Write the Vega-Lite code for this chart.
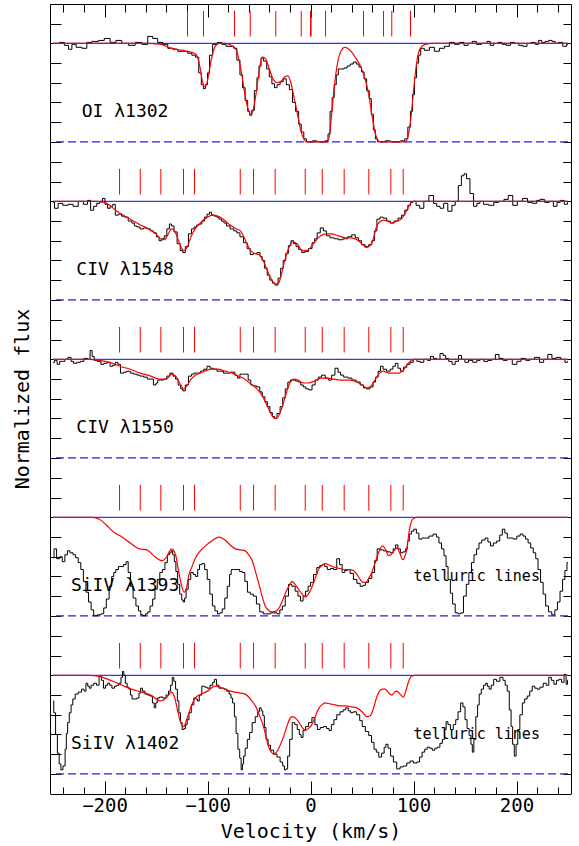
{
"$schema": "https://vega.github.io/schema/vega-lite/v6.json",
"background": "white",
"padding": {"left": 12, "top": 3, "right": 8, "bottom": 5},
"config": {
  "view": {"stroke": null},
  "axis": {"grid": false, "domainColor": "black", "tickColor": "black", "labelColor": "black", "titleColor": "black", "labelFont": "DejaVu Sans Mono", "titleFont": "DejaVu Sans Mono", "titleFontWeight": "normal", "domainWidth": 1, "tickWidth": 1},
  "header": {"labels": false}
},
"data": {"values": [
{"ion":"OI","k":"label","name":"OI λ1302"},
{"ion":"C1548","k":"label","name":"CIV λ1548"},
{"ion":"C1550","k":"label","name":"CIV λ1550"},
{"ion":"S1393","k":"label","name":"SiIV λ1393"},
{"ion":"S1402","k":"label","name":"SiIV λ1402"},
{"ion":"S1393","k":"tell","name":"telluric lines"},
{"ion":"S1402","k":"tell","name":"telluric lines"},
{"ion":"OI","k":"tick","v":-119.4},{"ion":"OI","k":"tick","v":-103.9},{"ion":"OI","k":"tick","v":-73.8},{"ion":"OI","k":"tick","v":-58.5},{"ion":"OI","k":"tick","v":-33.7},{"ion":"OI","k":"tick","v":-9.0},{"ion":"OI","k":"tick","v":0},{"ion":"OI","k":"tick","v":0.6},{"ion":"OI","k":"tick","v":14.6},{"ion":"OI","k":"tick","v":51.5},{"ion":"OI","k":"tick","v":70.9},{"ion":"OI","k":"tick","v":78.9},{"ion":"OI","k":"tick","v":97.1},
{"ion":"C1548","k":"tick","v":-185.4},{"ion":"C1548","k":"tick","v":-165.3},{"ion":"C1548","k":"tick","v":-145.3},{"ion":"C1548","k":"tick","v":-123.3},{"ion":"C1548","k":"tick","v":-112.6},{"ion":"C1548","k":"tick","v":-68.2},{"ion":"C1548","k":"tick","v":-55.3},{"ion":"C1548","k":"tick","v":-34.3},{"ion":"C1548","k":"tick","v":-5.1},{"ion":"C1548","k":"tick","v":11.4},{"ion":"C1548","k":"tick","v":32.7},{"ion":"C1548","k":"tick","v":56.6},{"ion":"C1548","k":"tick","v":78.0},{"ion":"C1548","k":"tick","v":90.0},
{"ion":"C1550","k":"tick","v":-185.4},{"ion":"C1550","k":"tick","v":-165.3},{"ion":"C1550","k":"tick","v":-145.3},{"ion":"C1550","k":"tick","v":-123.3},{"ion":"C1550","k":"tick","v":-112.6},{"ion":"C1550","k":"tick","v":-68.2},{"ion":"C1550","k":"tick","v":-55.3},{"ion":"C1550","k":"tick","v":-34.3},{"ion":"C1550","k":"tick","v":-5.1},{"ion":"C1550","k":"tick","v":11.4},{"ion":"C1550","k":"tick","v":32.7},{"ion":"C1550","k":"tick","v":56.6},{"ion":"C1550","k":"tick","v":78.0},{"ion":"C1550","k":"tick","v":90.0},
{"ion":"S1393","k":"tick","v":-185.4},{"ion":"S1393","k":"tick","v":-165.3},{"ion":"S1393","k":"tick","v":-145.3},{"ion":"S1393","k":"tick","v":-123.3},{"ion":"S1393","k":"tick","v":-112.6},{"ion":"S1393","k":"tick","v":-68.2},{"ion":"S1393","k":"tick","v":-55.3},{"ion":"S1393","k":"tick","v":-34.3},{"ion":"S1393","k":"tick","v":-5.1},{"ion":"S1393","k":"tick","v":11.4},{"ion":"S1393","k":"tick","v":32.7},{"ion":"S1393","k":"tick","v":56.6},{"ion":"S1393","k":"tick","v":78.0},{"ion":"S1393","k":"tick","v":90.0},
{"ion":"S1402","k":"tick","v":-185.4},{"ion":"S1402","k":"tick","v":-165.3},{"ion":"S1402","k":"tick","v":-145.3},{"ion":"S1402","k":"tick","v":-123.3},{"ion":"S1402","k":"tick","v":-112.6},{"ion":"S1402","k":"tick","v":-68.2},{"ion":"S1402","k":"tick","v":-55.3},{"ion":"S1402","k":"tick","v":-34.3},{"ion":"S1402","k":"tick","v":-5.1},{"ion":"S1402","k":"tick","v":11.4},{"ion":"S1402","k":"tick","v":32.7},{"ion":"S1402","k":"tick","v":56.6},{"ion":"S1402","k":"tick","v":78.0},{"ion":"S1402","k":"tick","v":90.0},

{"ion":"OI","k":"obs","v":-250,"f":1.0},{"ion":"OI","k":"obs","v":-246.3,"f":1.0},{"ion":"OI","k":"obs","v":-241.4,"f":1.01},{"ion":"OI","k":"obs","v":-236.6,"f":0.98},{"ion":"OI","k":"obs","v":-233.3,"f":0.94},{"ion":"OI","k":"obs","v":-230,"f":0.99},{"ion":"OI","k":"obs","v":-225,"f":0.96},{"ion":"OI","k":"obs","v":-218.8,"f":0.95},{"ion":"OI","k":"obs","v":-215.5,"f":1.01},{"ion":"OI","k":"obs","v":-209,"f":1.02},{"ion":"OI","k":"obs","v":-202.6,"f":1.03},{"ion":"OI","k":"obs","v":-197.8,"f":1.05},{"ion":"OI","k":"obs","v":-191.3,"f":1.01},{"ion":"OI","k":"obs","v":-186.4,"f":1.03},{"ion":"OI","k":"obs","v":-180,"f":1.0},{"ion":"OI","k":"obs","v":-173.5,"f":0.98},{"ion":"OI","k":"obs","v":-167,"f":1.01},{"ion":"OI","k":"obs","v":-160.5,"f":0.99},{"ion":"OI","k":"obs","v":-155.6,"f":1.07},{"ion":"OI","k":"obs","v":-150.8,"f":1.05},{"ion":"OI","k":"obs","v":-145.9,"f":1.01},{"ion":"OI","k":"obs","v":-141,"f":0.99},{"ion":"OI","k":"obs","v":-136.2,"f":0.95},{"ion":"OI","k":"obs","v":-131.4,"f":0.94},{"ion":"OI","k":"obs","v":-126.5,"f":0.92},{"ion":"OI","k":"obs","v":-121.7,"f":0.92},{"ion":"OI","k":"obs","v":-116.8,"f":0.9},{"ion":"OI","k":"obs","v":-113.6,"f":0.88},{"ion":"OI","k":"obs","v":-110,"f":0.86},{"ion":"OI","k":"obs","v":-107,"f":0.7},{"ion":"OI","k":"obs","v":-105,"f":0.58},{"ion":"OI","k":"obs","v":-103,"f":0.54},{"ion":"OI","k":"obs","v":-101,"f":0.58},{"ion":"OI","k":"obs","v":-99,"f":0.7},{"ion":"OI","k":"obs","v":-97,"f":0.88},{"ion":"OI","k":"obs","v":-93,"f":0.99},{"ion":"OI","k":"obs","v":-88,"f":1.01},{"ion":"OI","k":"obs","v":-84,"f":0.99},{"ion":"OI","k":"obs","v":-80,"f":0.97},{"ion":"OI","k":"obs","v":-76,"f":0.97},{"ion":"OI","k":"obs","v":-73,"f":0.95},{"ion":"OI","k":"obs","v":-70,"f":0.83},{"ion":"OI","k":"obs","v":-67,"f":0.68},{"ion":"OI","k":"obs","v":-65,"f":0.55},{"ion":"OI","k":"obs","v":-62,"f":0.42},{"ion":"OI","k":"obs","v":-60,"f":0.31},{"ion":"OI","k":"obs","v":-58,"f":0.27},{"ion":"OI","k":"obs","v":-56,"f":0.32},{"ion":"OI","k":"obs","v":-53,"f":0.52},{"ion":"OI","k":"obs","v":-51,"f":0.65},{"ion":"OI","k":"obs","v":-49,"f":0.77},{"ion":"OI","k":"obs","v":-47,"f":0.85},{"ion":"OI","k":"obs","v":-44,"f":0.82},{"ion":"OI","k":"obs","v":-41,"f":0.74},{"ion":"OI","k":"obs","v":-39,"f":0.66},{"ion":"OI","k":"obs","v":-36,"f":0.59},{"ion":"OI","k":"obs","v":-34,"f":0.55},{"ion":"OI","k":"obs","v":-31,"f":0.58},{"ion":"OI","k":"obs","v":-28,"f":0.61},{"ion":"OI","k":"obs","v":-25,"f":0.64},{"ion":"OI","k":"obs","v":-22,"f":0.58},{"ion":"OI","k":"obs","v":-19,"f":0.53},{"ion":"OI","k":"obs","v":-16,"f":0.4},{"ion":"OI","k":"obs","v":-13,"f":0.31},{"ion":"OI","k":"obs","v":-10,"f":0.18},{"ion":"OI","k":"obs","v":-8,"f":0.1},{"ion":"OI","k":"obs","v":-5,"f":0.03},{"ion":"OI","k":"obs","v":-3,"f":0.0},{"ion":"OI","k":"obs","v":0,"f":0.0},{"ion":"OI","k":"obs","v":4,"f":0.01},{"ion":"OI","k":"obs","v":8,"f":0.0},{"ion":"OI","k":"obs","v":12,"f":0.0},{"ion":"OI","k":"obs","v":16,"f":0.01},{"ion":"OI","k":"obs","v":18,"f":0.08},{"ion":"OI","k":"obs","v":20,"f":0.31},{"ion":"OI","k":"obs","v":22,"f":0.45},{"ion":"OI","k":"obs","v":24,"f":0.58},{"ion":"OI","k":"obs","v":26,"f":0.68},{"ion":"OI","k":"obs","v":28,"f":0.74},{"ion":"OI","k":"obs","v":31,"f":0.74},{"ion":"OI","k":"obs","v":34,"f":0.75},{"ion":"OI","k":"obs","v":37,"f":0.77},{"ion":"OI","k":"obs","v":40,"f":0.79},{"ion":"OI","k":"obs","v":43,"f":0.81},{"ion":"OI","k":"obs","v":46,"f":0.79},{"ion":"OI","k":"obs","v":48,"f":0.76},{"ion":"OI","k":"obs","v":51,"f":0.71},{"ion":"OI","k":"obs","v":53,"f":0.64},{"ion":"OI","k":"obs","v":56,"f":0.52},{"ion":"OI","k":"obs","v":58,"f":0.44},{"ion":"OI","k":"obs","v":60,"f":0.28},{"ion":"OI","k":"obs","v":62,"f":0.12},{"ion":"OI","k":"obs","v":64,"f":0.03},{"ion":"OI","k":"obs","v":66,"f":0.0},{"ion":"OI","k":"obs","v":70,"f":0.0},{"ion":"OI","k":"obs","v":75,"f":0.01},{"ion":"OI","k":"obs","v":80,"f":0.0},{"ion":"OI","k":"obs","v":85,"f":0.0},{"ion":"OI","k":"obs","v":90,"f":0.01},{"ion":"OI","k":"obs","v":93,"f":0.03},{"ion":"OI","k":"obs","v":96,"f":0.15},{"ion":"OI","k":"obs","v":98,"f":0.31},{"ion":"OI","k":"obs","v":100,"f":0.48},{"ion":"OI","k":"obs","v":102,"f":0.65},{"ion":"OI","k":"obs","v":104,"f":0.8},{"ion":"OI","k":"obs","v":106,"f":0.88},{"ion":"OI","k":"obs","v":108,"f":0.95},{"ion":"OI","k":"obs","v":113,"f":0.93},{"ion":"OI","k":"obs","v":117.8,"f":0.96},{"ion":"OI","k":"obs","v":122.7,"f":0.92},{"ion":"OI","k":"obs","v":127.5,"f":0.95},{"ion":"OI","k":"obs","v":132.4,"f":0.97},{"ion":"OI","k":"obs","v":137.2,"f":1.01},{"ion":"OI","k":"obs","v":142,"f":0.99},{"ion":"OI","k":"obs","v":147,"f":1.01},{"ion":"OI","k":"obs","v":151,"f":0.98},{"ion":"OI","k":"obs","v":155,"f":1.0},{"ion":"OI","k":"obs","v":159,"f":1.02},{"ion":"OI","k":"obs","v":163,"f":0.99},{"ion":"OI","k":"obs","v":169.6,"f":1.0},{"ion":"OI","k":"obs","v":173,"f":1.02},{"ion":"OI","k":"obs","v":176,"f":0.98},{"ion":"OI","k":"obs","v":180,"f":1.0},{"ion":"OI","k":"obs","v":184,"f":1.01},{"ion":"OI","k":"obs","v":188,"f":0.99},{"ion":"OI","k":"obs","v":192.2,"f":0.98},{"ion":"OI","k":"obs","v":196,"f":1.01},{"ion":"OI","k":"obs","v":200.3,"f":1.0},{"ion":"OI","k":"obs","v":204,"f":0.98},{"ion":"OI","k":"obs","v":208.4,"f":0.97},{"ion":"OI","k":"obs","v":212,"f":1.0},{"ion":"OI","k":"obs","v":216.5,"f":1.01},{"ion":"OI","k":"obs","v":220,"f":0.99},{"ion":"OI","k":"obs","v":223,"f":1.03},{"ion":"OI","k":"obs","v":226,"f":1.01},{"ion":"OI","k":"obs","v":229.5,"f":1.02},{"ion":"OI","k":"obs","v":233,"f":1.03},{"ion":"OI","k":"obs","v":236,"f":1.02},{"ion":"OI","k":"obs","v":239,"f":1.0},{"ion":"OI","k":"obs","v":242.5,"f":1.01},{"ion":"OI","k":"obs","v":247.3,"f":0.97},{"ion":"OI","k":"obs","v":250,"f":0.99},

{"ion":"OI","k":"mod","v":-250,"f":1.0},{"ion":"OI","k":"mod","v":-160,"f":1.0},{"ion":"OI","k":"mod","v":-145,"f":0.99},{"ion":"OI","k":"mod","v":-138,"f":0.96},{"ion":"OI","k":"mod","v":-130,"f":0.94},{"ion":"OI","k":"mod","v":-120,"f":0.92},{"ion":"OI","k":"mod","v":-113,"f":0.9},{"ion":"OI","k":"mod","v":-110,"f":0.87},{"ion":"OI","k":"mod","v":-107,"f":0.74},{"ion":"OI","k":"mod","v":-105,"f":0.62},{"ion":"OI","k":"mod","v":-103,"f":0.56},{"ion":"OI","k":"mod","v":-101,"f":0.58},{"ion":"OI","k":"mod","v":-99,"f":0.68},{"ion":"OI","k":"mod","v":-96,"f":0.85},{"ion":"OI","k":"mod","v":-93,"f":0.96},{"ion":"OI","k":"mod","v":-89,"f":1.0},{"ion":"OI","k":"mod","v":-83,"f":1.0},{"ion":"OI","k":"mod","v":-77,"f":0.98},{"ion":"OI","k":"mod","v":-73,"f":0.95},{"ion":"OI","k":"mod","v":-70,"f":0.86},{"ion":"OI","k":"mod","v":-67,"f":0.7},{"ion":"OI","k":"mod","v":-64,"f":0.5},{"ion":"OI","k":"mod","v":-61,"f":0.35},{"ion":"OI","k":"mod","v":-58,"f":0.28},{"ion":"OI","k":"mod","v":-56,"f":0.31},{"ion":"OI","k":"mod","v":-53,"f":0.48},{"ion":"OI","k":"mod","v":-50,"f":0.7},{"ion":"OI","k":"mod","v":-47,"f":0.86},{"ion":"OI","k":"mod","v":-44,"f":0.85},{"ion":"OI","k":"mod","v":-40,"f":0.74},{"ion":"OI","k":"mod","v":-36,"f":0.63},{"ion":"OI","k":"mod","v":-32,"f":0.6},{"ion":"OI","k":"mod","v":-28,"f":0.62},{"ion":"OI","k":"mod","v":-25,"f":0.66},{"ion":"OI","k":"mod","v":-22,"f":0.67},{"ion":"OI","k":"mod","v":-19,"f":0.6},{"ion":"OI","k":"mod","v":-16,"f":0.45},{"ion":"OI","k":"mod","v":-13,"f":0.3},{"ion":"OI","k":"mod","v":-10,"f":0.14},{"ion":"OI","k":"mod","v":-7,"f":0.04},{"ion":"OI","k":"mod","v":-4,"f":0.0},{"ion":"OI","k":"mod","v":17,"f":0.0},{"ion":"OI","k":"mod","v":19,"f":0.12},{"ion":"OI","k":"mod","v":21,"f":0.33},{"ion":"OI","k":"mod","v":23,"f":0.55},{"ion":"OI","k":"mod","v":25,"f":0.72},{"ion":"OI","k":"mod","v":27,"f":0.84},{"ion":"OI","k":"mod","v":30,"f":0.93},{"ion":"OI","k":"mod","v":33,"f":0.96},{"ion":"OI","k":"mod","v":36,"f":0.95},{"ion":"OI","k":"mod","v":40,"f":0.91},{"ion":"OI","k":"mod","v":44,"f":0.85},{"ion":"OI","k":"mod","v":48,"f":0.78},{"ion":"OI","k":"mod","v":51,"f":0.7},{"ion":"OI","k":"mod","v":54,"f":0.6},{"ion":"OI","k":"mod","v":57,"f":0.45},{"ion":"OI","k":"mod","v":60,"f":0.25},{"ion":"OI","k":"mod","v":63,"f":0.08},{"ion":"OI","k":"mod","v":66,"f":0.01},{"ion":"OI","k":"mod","v":68,"f":0.0},{"ion":"OI","k":"mod","v":92,"f":0.0},{"ion":"OI","k":"mod","v":95,"f":0.07},{"ion":"OI","k":"mod","v":97,"f":0.2},{"ion":"OI","k":"mod","v":99,"f":0.4},{"ion":"OI","k":"mod","v":101,"f":0.62},{"ion":"OI","k":"mod","v":103,"f":0.8},{"ion":"OI","k":"mod","v":105,"f":0.91},{"ion":"OI","k":"mod","v":108,"f":0.97},{"ion":"OI","k":"mod","v":112,"f":0.99},{"ion":"OI","k":"mod","v":118,"f":1.0},{"ion":"OI","k":"mod","v":250,"f":1.0},

{"ion":"C1548","k":"obs","v":-250,"f":0.99},{"ion":"C1548","k":"obs","v":-247,"f":0.93},{"ion":"C1548","k":"obs","v":-243,"f":0.98},{"ion":"C1548","k":"obs","v":-238,"f":0.96},{"ion":"C1548","k":"obs","v":-233,"f":0.97},{"ion":"C1548","k":"obs","v":-228,"f":0.95},{"ion":"C1548","k":"obs","v":-223,"f":1.0},{"ion":"C1548","k":"obs","v":-218,"f":0.97},{"ion":"C1548","k":"obs","v":-215,"f":1.01},{"ion":"C1548","k":"obs","v":-212,"f":0.91},{"ion":"C1548","k":"obs","v":-209,"f":0.95},{"ion":"C1548","k":"obs","v":-206,"f":0.98},{"ion":"C1548","k":"obs","v":-203,"f":1.0},{"ion":"C1548","k":"obs","v":-201,"f":1.03},{"ion":"C1548","k":"obs","v":-198,"f":0.97},{"ion":"C1548","k":"obs","v":-196,"f":0.93},{"ion":"C1548","k":"obs","v":-193,"f":0.95},{"ion":"C1548","k":"obs","v":-191,"f":0.97},{"ion":"C1548","k":"obs","v":-188,"f":0.86},{"ion":"C1548","k":"obs","v":-185,"f":0.87},{"ion":"C1548","k":"obs","v":-182,"f":0.85},{"ion":"C1548","k":"obs","v":-179,"f":0.84},{"ion":"C1548","k":"obs","v":-175,"f":0.8},{"ion":"C1548","k":"obs","v":-172,"f":0.78},{"ion":"C1548","k":"obs","v":-170,"f":0.75},{"ion":"C1548","k":"obs","v":-167,"f":0.74},{"ion":"C1548","k":"obs","v":-164,"f":0.72},{"ion":"C1548","k":"obs","v":-160,"f":0.73},{"ion":"C1548","k":"obs","v":-157,"f":0.72},{"ion":"C1548","k":"obs","v":-154,"f":0.7},{"ion":"C1548","k":"obs","v":-151,"f":0.68},{"ion":"C1548","k":"obs","v":-148,"f":0.64},{"ion":"C1548","k":"obs","v":-146,"f":0.6},{"ion":"C1548","k":"obs","v":-143,"f":0.62},{"ion":"C1548","k":"obs","v":-141,"f":0.65},{"ion":"C1548","k":"obs","v":-138,"f":0.72},{"ion":"C1548","k":"obs","v":-136,"f":0.77},{"ion":"C1548","k":"obs","v":-134,"f":0.75},{"ion":"C1548","k":"obs","v":-131,"f":0.69},{"ion":"C1548","k":"obs","v":-128,"f":0.57},{"ion":"C1548","k":"obs","v":-125,"f":0.5},{"ion":"C1548","k":"obs","v":-123,"f":0.48},{"ion":"C1548","k":"obs","v":-120,"f":0.54},{"ion":"C1548","k":"obs","v":-117,"f":0.67},{"ion":"C1548","k":"obs","v":-114,"f":0.72},{"ion":"C1548","k":"obs","v":-112,"f":0.74},{"ion":"C1548","k":"obs","v":-109,"f":0.76},{"ion":"C1548","k":"obs","v":-107,"f":0.77},{"ion":"C1548","k":"obs","v":-104,"f":0.8},{"ion":"C1548","k":"obs","v":-102,"f":0.84},{"ion":"C1548","k":"obs","v":-99,"f":0.87},{"ion":"C1548","k":"obs","v":-97,"f":0.89},{"ion":"C1548","k":"obs","v":-95,"f":0.86},{"ion":"C1548","k":"obs","v":-92,"f":0.85},{"ion":"C1548","k":"obs","v":-90,"f":0.84},{"ion":"C1548","k":"obs","v":-88,"f":0.82},{"ion":"C1548","k":"obs","v":-85,"f":0.8},{"ion":"C1548","k":"obs","v":-83,"f":0.78},{"ion":"C1548","k":"obs","v":-80,"f":0.75},{"ion":"C1548","k":"obs","v":-76,"f":0.72},{"ion":"C1548","k":"obs","v":-73,"f":0.7},{"ion":"C1548","k":"obs","v":-70,"f":0.68},{"ion":"C1548","k":"obs","v":-67,"f":0.64},{"ion":"C1548","k":"obs","v":-63,"f":0.58},{"ion":"C1548","k":"obs","v":-60,"f":0.52},{"ion":"C1548","k":"obs","v":-57,"f":0.46},{"ion":"C1548","k":"obs","v":-54,"f":0.47},{"ion":"C1548","k":"obs","v":-50,"f":0.48},{"ion":"C1548","k":"obs","v":-48,"f":0.44},{"ion":"C1548","k":"obs","v":-46,"f":0.4},{"ion":"C1548","k":"obs","v":-43,"f":0.32},{"ion":"C1548","k":"obs","v":-41,"f":0.25},{"ion":"C1548","k":"obs","v":-38,"f":0.2},{"ion":"C1548","k":"obs","v":-36,"f":0.17},{"ion":"C1548","k":"obs","v":-33,"f":0.15},{"ion":"C1548","k":"obs","v":-30,"f":0.22},{"ion":"C1548","k":"obs","v":-28,"f":0.32},{"ion":"C1548","k":"obs","v":-25,"f":0.4},{"ion":"C1548","k":"obs","v":-23,"f":0.47},{"ion":"C1548","k":"obs","v":-20,"f":0.55},{"ion":"C1548","k":"obs","v":-18,"f":0.6},{"ion":"C1548","k":"obs","v":-15,"f":0.57},{"ion":"C1548","k":"obs","v":-13,"f":0.54},{"ion":"C1548","k":"obs","v":-10,"f":0.51},{"ion":"C1548","k":"obs","v":-7,"f":0.48},{"ion":"C1548","k":"obs","v":-4,"f":0.49},{"ion":"C1548","k":"obs","v":0,"f":0.52},{"ion":"C1548","k":"obs","v":3,"f":0.58},{"ion":"C1548","k":"obs","v":5,"f":0.62},{"ion":"C1548","k":"obs","v":8,"f":0.68},{"ion":"C1548","k":"obs","v":11,"f":0.73},{"ion":"C1548","k":"obs","v":14,"f":0.7},{"ion":"C1548","k":"obs","v":17,"f":0.65},{"ion":"C1548","k":"obs","v":21,"f":0.63},{"ion":"C1548","k":"obs","v":25,"f":0.62},{"ion":"C1548","k":"obs","v":29,"f":0.61},{"ion":"C1548","k":"obs","v":34,"f":0.62},{"ion":"C1548","k":"obs","v":38,"f":0.64},{"ion":"C1548","k":"obs","v":42,"f":0.66},{"ion":"C1548","k":"obs","v":45,"f":0.63},{"ion":"C1548","k":"obs","v":48,"f":0.6},{"ion":"C1548","k":"obs","v":51,"f":0.56},{"ion":"C1548","k":"obs","v":55,"f":0.54},{"ion":"C1548","k":"obs","v":58,"f":0.56},{"ion":"C1548","k":"obs","v":61,"f":0.6},{"ion":"C1548","k":"obs","v":63,"f":0.7},{"ion":"C1548","k":"obs","v":66,"f":0.82},{"ion":"C1548","k":"obs","v":69,"f":0.84},{"ion":"C1548","k":"obs","v":72,"f":0.83},{"ion":"C1548","k":"obs","v":76,"f":0.8},{"ion":"C1548","k":"obs","v":79,"f":0.78},{"ion":"C1548","k":"obs","v":83,"f":0.8},{"ion":"C1548","k":"obs","v":87,"f":0.83},{"ion":"C1548","k":"obs","v":90,"f":0.86},{"ion":"C1548","k":"obs","v":93,"f":0.91},{"ion":"C1548","k":"obs","v":96,"f":0.96},{"ion":"C1548","k":"obs","v":98,"f":0.99},{"ion":"C1548","k":"obs","v":101,"f":1.0},{"ion":"C1548","k":"obs","v":104,"f":0.96},{"ion":"C1548","k":"obs","v":108,"f":0.93},{"ion":"C1548","k":"obs","v":112,"f":1.0},{"ion":"C1548","k":"obs","v":117.8,"f":1.06},{"ion":"C1548","k":"obs","v":121,"f":0.98},{"ion":"C1548","k":"obs","v":124,"f":0.95},{"ion":"C1548","k":"obs","v":127.5,"f":0.93},{"ion":"C1548","k":"obs","v":131,"f":0.98},{"ion":"C1548","k":"obs","v":135.6,"f":0.9},{"ion":"C1548","k":"obs","v":139,"f":0.96},{"ion":"C1548","k":"obs","v":142,"f":1.0},{"ion":"C1548","k":"obs","v":145,"f":1.16},{"ion":"C1548","k":"obs","v":148,"f":1.26},{"ion":"C1548","k":"obs","v":150,"f":1.28},{"ion":"C1548","k":"obs","v":153,"f":1.23},{"ion":"C1548","k":"obs","v":156.6,"f":1.08},{"ion":"C1548","k":"obs","v":160,"f":0.95},{"ion":"C1548","k":"obs","v":163,"f":0.98},{"ion":"C1548","k":"obs","v":166,"f":1.0},{"ion":"C1548","k":"obs","v":170,"f":0.97},{"ion":"C1548","k":"obs","v":176,"f":0.96},{"ion":"C1548","k":"obs","v":180,"f":0.99},{"ion":"C1548","k":"obs","v":185.7,"f":1.0},{"ion":"C1548","k":"obs","v":190,"f":1.02},{"ion":"C1548","k":"obs","v":194,"f":1.06},{"ion":"C1548","k":"obs","v":198.7,"f":0.96},{"ion":"C1548","k":"obs","v":203,"f":1.0},{"ion":"C1548","k":"obs","v":208.4,"f":1.03},{"ion":"C1548","k":"obs","v":213,"f":0.99},{"ion":"C1548","k":"obs","v":218,"f":0.98},{"ion":"C1548","k":"obs","v":221,"f":1.01},{"ion":"C1548","k":"obs","v":224.6,"f":1.02},{"ion":"C1548","k":"obs","v":230,"f":0.99},{"ion":"C1548","k":"obs","v":234,"f":1.0},{"ion":"C1548","k":"obs","v":237.6,"f":0.95},{"ion":"C1548","k":"obs","v":241,"f":0.99},{"ion":"C1548","k":"obs","v":244,"f":1.01},{"ion":"C1548","k":"obs","v":248.8,"f":0.97},{"ion":"C1548","k":"obs","v":250,"f":0.99},

{"ion":"C1548","k":"mod","v":-250,"f":1.0},{"ion":"C1548","k":"mod","v":-210,"f":1.0},{"ion":"C1548","k":"mod","v":-200,"f":0.99},{"ion":"C1548","k":"mod","v":-195,"f":0.96},{"ion":"C1548","k":"mod","v":-188,"f":0.9},{"ion":"C1548","k":"mod","v":-180,"f":0.85},{"ion":"C1548","k":"mod","v":-172,"f":0.8},{"ion":"C1548","k":"mod","v":-165,"f":0.76},{"ion":"C1548","k":"mod","v":-157,"f":0.72},{"ion":"C1548","k":"mod","v":-150,"f":0.67},{"ion":"C1548","k":"mod","v":-146,"f":0.62},{"ion":"C1548","k":"mod","v":-142,"f":0.61},{"ion":"C1548","k":"mod","v":-138,"f":0.67},{"ion":"C1548","k":"mod","v":-135,"f":0.72},{"ion":"C1548","k":"mod","v":-132,"f":0.7},{"ion":"C1548","k":"mod","v":-128,"f":0.6},{"ion":"C1548","k":"mod","v":-125,"f":0.52},{"ion":"C1548","k":"mod","v":-123,"f":0.5},{"ion":"C1548","k":"mod","v":-120,"f":0.53},{"ion":"C1548","k":"mod","v":-116,"f":0.64},{"ion":"C1548","k":"mod","v":-112,"f":0.72},{"ion":"C1548","k":"mod","v":-106,"f":0.79},{"ion":"C1548","k":"mod","v":-100,"f":0.84},{"ion":"C1548","k":"mod","v":-95,"f":0.86},{"ion":"C1548","k":"mod","v":-90,"f":0.85},{"ion":"C1548","k":"mod","v":-85,"f":0.82},{"ion":"C1548","k":"mod","v":-78,"f":0.76},{"ion":"C1548","k":"mod","v":-72,"f":0.72},{"ion":"C1548","k":"mod","v":-68,"f":0.7},{"ion":"C1548","k":"mod","v":-63,"f":0.6},{"ion":"C1548","k":"mod","v":-58,"f":0.5},{"ion":"C1548","k":"mod","v":-54,"f":0.47},{"ion":"C1548","k":"mod","v":-50,"f":0.46},{"ion":"C1548","k":"mod","v":-46,"f":0.4},{"ion":"C1548","k":"mod","v":-42,"f":0.3},{"ion":"C1548","k":"mod","v":-38,"f":0.21},{"ion":"C1548","k":"mod","v":-34,"f":0.16},{"ion":"C1548","k":"mod","v":-31,"f":0.17},{"ion":"C1548","k":"mod","v":-28,"f":0.27},{"ion":"C1548","k":"mod","v":-25,"f":0.4},{"ion":"C1548","k":"mod","v":-21,"f":0.53},{"ion":"C1548","k":"mod","v":-17,"f":0.59},{"ion":"C1548","k":"mod","v":-13,"f":0.57},{"ion":"C1548","k":"mod","v":-8,"f":0.5},{"ion":"C1548","k":"mod","v":-4,"f":0.5},{"ion":"C1548","k":"mod","v":0,"f":0.53},{"ion":"C1548","k":"mod","v":5,"f":0.6},{"ion":"C1548","k":"mod","v":10,"f":0.65},{"ion":"C1548","k":"mod","v":15,"f":0.67},{"ion":"C1548","k":"mod","v":20,"f":0.67},{"ion":"C1548","k":"mod","v":27,"f":0.65},{"ion":"C1548","k":"mod","v":34,"f":0.63},{"ion":"C1548","k":"mod","v":40,"f":0.63},{"ion":"C1548","k":"mod","v":45,"f":0.61},{"ion":"C1548","k":"mod","v":50,"f":0.57},{"ion":"C1548","k":"mod","v":54,"f":0.53},{"ion":"C1548","k":"mod","v":58,"f":0.55},{"ion":"C1548","k":"mod","v":61,"f":0.62},{"ion":"C1548","k":"mod","v":64,"f":0.74},{"ion":"C1548","k":"mod","v":67,"f":0.79},{"ion":"C1548","k":"mod","v":71,"f":0.81},{"ion":"C1548","k":"mod","v":75,"f":0.8},{"ion":"C1548","k":"mod","v":79,"f":0.78},{"ion":"C1548","k":"mod","v":84,"f":0.8},{"ion":"C1548","k":"mod","v":88,"f":0.82},{"ion":"C1548","k":"mod","v":92,"f":0.88},{"ion":"C1548","k":"mod","v":96,"f":0.96},{"ion":"C1548","k":"mod","v":100,"f":1.0},{"ion":"C1548","k":"mod","v":250,"f":1.0},

{"ion":"C1550","k":"obs","v":-250,"f":0.97},{"ion":"C1550","k":"obs","v":-247,"f":0.99},{"ion":"C1550","k":"obs","v":-245,"f":0.95},{"ion":"C1550","k":"obs","v":-242,"f":0.98},{"ion":"C1550","k":"obs","v":-240,"f":0.98},{"ion":"C1550","k":"obs","v":-237,"f":1.0},{"ion":"C1550","k":"obs","v":-234,"f":1.02},{"ion":"C1550","k":"obs","v":-231,"f":0.98},{"ion":"C1550","k":"obs","v":-229,"f":0.96},{"ion":"C1550","k":"obs","v":-225,"f":0.97},{"ion":"C1550","k":"obs","v":-222,"f":0.98},{"ion":"C1550","k":"obs","v":-218,"f":1.01},{"ion":"C1550","k":"obs","v":-215,"f":1.0},{"ion":"C1550","k":"obs","v":-213,"f":1.09},{"ion":"C1550","k":"obs","v":-211,"f":1.03},{"ion":"C1550","k":"obs","v":-209,"f":0.99},{"ion":"C1550","k":"obs","v":-205,"f":0.98},{"ion":"C1550","k":"obs","v":-202,"f":0.95},{"ion":"C1550","k":"obs","v":-199,"f":0.96},{"ion":"C1550","k":"obs","v":-196,"f":0.97},{"ion":"C1550","k":"obs","v":-193,"f":0.93},{"ion":"C1550","k":"obs","v":-191,"f":0.94},{"ion":"C1550","k":"obs","v":-188,"f":0.97},{"ion":"C1550","k":"obs","v":-186,"f":0.95},{"ion":"C1550","k":"obs","v":-183,"f":0.86},{"ion":"C1550","k":"obs","v":-180,"f":0.87},{"ion":"C1550","k":"obs","v":-177,"f":0.88},{"ion":"C1550","k":"obs","v":-173,"f":0.86},{"ion":"C1550","k":"obs","v":-170,"f":0.85},{"ion":"C1550","k":"obs","v":-167,"f":0.84},{"ion":"C1550","k":"obs","v":-164,"f":0.83},{"ion":"C1550","k":"obs","v":-160,"f":0.82},{"ion":"C1550","k":"obs","v":-157,"f":0.8},{"ion":"C1550","k":"obs","v":-154,"f":0.8},{"ion":"C1550","k":"obs","v":-151,"f":0.74},{"ion":"C1550","k":"obs","v":-149,"f":0.76},{"ion":"C1550","k":"obs","v":-147.6,"f":0.79},{"ion":"C1550","k":"obs","v":-144,"f":0.79},{"ion":"C1550","k":"obs","v":-141,"f":0.8},{"ion":"C1550","k":"obs","v":-138,"f":0.83},{"ion":"C1550","k":"obs","v":-135,"f":0.86},{"ion":"C1550","k":"obs","v":-132,"f":0.83},{"ion":"C1550","k":"obs","v":-130,"f":0.8},{"ion":"C1550","k":"obs","v":-127,"f":0.74},{"ion":"C1550","k":"obs","v":-125,"f":0.7},{"ion":"C1550","k":"obs","v":-123,"f":0.68},{"ion":"C1550","k":"obs","v":-120,"f":0.74},{"ion":"C1550","k":"obs","v":-117,"f":0.83},{"ion":"C1550","k":"obs","v":-114,"f":0.85},{"ion":"C1550","k":"obs","v":-112,"f":0.86},{"ion":"C1550","k":"obs","v":-108,"f":0.86},{"ion":"C1550","k":"obs","v":-105.5,"f":0.88},{"ion":"C1550","k":"obs","v":-102,"f":0.9},{"ion":"C1550","k":"obs","v":-99,"f":0.93},{"ion":"C1550","k":"obs","v":-96,"f":0.91},{"ion":"C1550","k":"obs","v":-92.6,"f":0.9},{"ion":"C1550","k":"obs","v":-89,"f":0.88},{"ion":"C1550","k":"obs","v":-86,"f":0.88},{"ion":"C1550","k":"obs","v":-83,"f":0.86},{"ion":"C1550","k":"obs","v":-79.6,"f":0.86},{"ion":"C1550","k":"obs","v":-77,"f":0.87},{"ion":"C1550","k":"obs","v":-74.8,"f":0.87},{"ion":"C1550","k":"obs","v":-72,"f":0.84},{"ion":"C1550","k":"obs","v":-70,"f":0.81},{"ion":"C1550","k":"obs","v":-67,"f":0.85},{"ion":"C1550","k":"obs","v":-65,"f":0.85},{"ion":"C1550","k":"obs","v":-62,"f":0.85},{"ion":"C1550","k":"obs","v":-59,"f":0.79},{"ion":"C1550","k":"obs","v":-57,"f":0.74},{"ion":"C1550","k":"obs","v":-54,"f":0.73},{"ion":"C1550","k":"obs","v":-50.5,"f":0.72},{"ion":"C1550","k":"obs","v":-48,"f":0.67},{"ion":"C1550","k":"obs","v":-45.6,"f":0.62},{"ion":"C1550","k":"obs","v":-43,"f":0.57},{"ion":"C1550","k":"obs","v":-40.8,"f":0.52},{"ion":"C1550","k":"obs","v":-38,"f":0.46},{"ion":"C1550","k":"obs","v":-36,"f":0.42},{"ion":"C1550","k":"obs","v":-34,"f":0.4},{"ion":"C1550","k":"obs","v":-31,"f":0.45},{"ion":"C1550","k":"obs","v":-28,"f":0.52},{"ion":"C1550","k":"obs","v":-26,"f":0.61},{"ion":"C1550","k":"obs","v":-23,"f":0.7},{"ion":"C1550","k":"obs","v":-21,"f":0.77},{"ion":"C1550","k":"obs","v":-18,"f":0.79},{"ion":"C1550","k":"obs","v":-16,"f":0.79},{"ion":"C1550","k":"obs","v":-13,"f":0.78},{"ion":"C1550","k":"obs","v":-11,"f":0.77},{"ion":"C1550","k":"obs","v":-8,"f":0.74},{"ion":"C1550","k":"obs","v":-6,"f":0.72},{"ion":"C1550","k":"obs","v":-3,"f":0.7},{"ion":"C1550","k":"obs","v":0,"f":0.69},{"ion":"C1550","k":"obs","v":3,"f":0.74},{"ion":"C1550","k":"obs","v":6,"f":0.79},{"ion":"C1550","k":"obs","v":9,"f":0.82},{"ion":"C1550","k":"obs","v":12.6,"f":0.84},{"ion":"C1550","k":"obs","v":16,"f":0.81},{"ion":"C1550","k":"obs","v":19,"f":0.79},{"ion":"C1550","k":"obs","v":22,"f":0.84},{"ion":"C1550","k":"obs","v":25.5,"f":0.91},{"ion":"C1550","k":"obs","v":28,"f":0.87},{"ion":"C1550","k":"obs","v":30.4,"f":0.84},{"ion":"C1550","k":"obs","v":34,"f":0.82},{"ion":"C1550","k":"obs","v":38.5,"f":0.81},{"ion":"C1550","k":"obs","v":42,"f":0.79},{"ion":"C1550","k":"obs","v":46.6,"f":0.77},{"ion":"C1550","k":"obs","v":50,"f":0.74},{"ion":"C1550","k":"obs","v":53,"f":0.71},{"ion":"C1550","k":"obs","v":56,"f":0.7},{"ion":"C1550","k":"obs","v":59.5,"f":0.72},{"ion":"C1550","k":"obs","v":62,"f":0.77},{"ion":"C1550","k":"obs","v":64.4,"f":0.82},{"ion":"C1550","k":"obs","v":67,"f":0.88},{"ion":"C1550","k":"obs","v":69,"f":0.93},{"ion":"C1550","k":"obs","v":72,"f":0.9},{"ion":"C1550","k":"obs","v":75.7,"f":0.88},{"ion":"C1550","k":"obs","v":79,"f":0.9},{"ion":"C1550","k":"obs","v":81,"f":0.93},{"ion":"C1550","k":"obs","v":83.8,"f":0.96},{"ion":"C1550","k":"obs","v":86,"f":0.91},{"ion":"C1550","k":"obs","v":88.6,"f":0.88},{"ion":"C1550","k":"obs","v":92,"f":0.92},{"ion":"C1550","k":"obs","v":95,"f":0.95},{"ion":"C1550","k":"obs","v":98,"f":0.97},{"ion":"C1550","k":"obs","v":101.5,"f":1.0},{"ion":"C1550","k":"obs","v":105,"f":0.98},{"ion":"C1550","k":"obs","v":108,"f":0.97},{"ion":"C1550","k":"obs","v":112,"f":1.0},{"ion":"C1550","k":"obs","v":115,"f":0.99},{"ion":"C1550","k":"obs","v":117.8,"f":1.03},{"ion":"C1550","k":"obs","v":121,"f":1.01},{"ion":"C1550","k":"obs","v":124,"f":1.0},{"ion":"C1550","k":"obs","v":127.5,"f":1.06},{"ion":"C1550","k":"obs","v":130,"f":1.04},{"ion":"C1550","k":"obs","v":132.4,"f":1.01},{"ion":"C1550","k":"obs","v":136,"f":0.98},{"ion":"C1550","k":"obs","v":139,"f":0.95},{"ion":"C1550","k":"obs","v":142,"f":0.98},{"ion":"C1550","k":"obs","v":145.3,"f":1.04},{"ion":"C1550","k":"obs","v":148,"f":1.0},{"ion":"C1550","k":"obs","v":151.8,"f":0.97},{"ion":"C1550","k":"obs","v":155,"f":0.99},{"ion":"C1550","k":"obs","v":160,"f":0.97},{"ion":"C1550","k":"obs","v":163,"f":0.99},{"ion":"C1550","k":"obs","v":166.4,"f":1.0},{"ion":"C1550","k":"obs","v":170,"f":0.98},{"ion":"C1550","k":"obs","v":174.5,"f":0.99},{"ion":"C1550","k":"obs","v":178,"f":1.0},{"ion":"C1550","k":"obs","v":181,"f":1.05},{"ion":"C1550","k":"obs","v":185,"f":1.01},{"ion":"C1550","k":"obs","v":189,"f":0.99},{"ion":"C1550","k":"obs","v":193,"f":1.0},{"ion":"C1550","k":"obs","v":198.8,"f":0.95},{"ion":"C1550","k":"obs","v":202,"f":0.98},{"ion":"C1550","k":"obs","v":206.8,"f":1.01},{"ion":"C1550","k":"obs","v":211,"f":0.99},{"ion":"C1550","k":"obs","v":215,"f":1.0},{"ion":"C1550","k":"obs","v":220,"f":1.02},{"ion":"C1550","k":"obs","v":224.7,"f":0.97},{"ion":"C1550","k":"obs","v":228,"f":1.0},{"ion":"C1550","k":"obs","v":232.8,"f":1.05},{"ion":"C1550","k":"obs","v":236,"f":1.01},{"ion":"C1550","k":"obs","v":241,"f":1.02},{"ion":"C1550","k":"obs","v":245,"f":1.0},{"ion":"C1550","k":"obs","v":249,"f":0.97},{"ion":"C1550","k":"obs","v":250,"f":0.98},

{"ion":"C1550","k":"mod","v":-250,"f":1.0},{"ion":"C1550","k":"mod","v":-215,"f":1.0},{"ion":"C1550","k":"mod","v":-205,"f":0.99},{"ion":"C1550","k":"mod","v":-195,"f":0.97},{"ion":"C1550","k":"mod","v":-185,"f":0.93},{"ion":"C1550","k":"mod","v":-175,"f":0.9},{"ion":"C1550","k":"mod","v":-165,"f":0.86},{"ion":"C1550","k":"mod","v":-155,"f":0.83},{"ion":"C1550","k":"mod","v":-147,"f":0.8},{"ion":"C1550","k":"mod","v":-140,"f":0.8},{"ion":"C1550","k":"mod","v":-135,"f":0.85},{"ion":"C1550","k":"mod","v":-131,"f":0.83},{"ion":"C1550","k":"mod","v":-127,"f":0.76},{"ion":"C1550","k":"mod","v":-123,"f":0.7},{"ion":"C1550","k":"mod","v":-120,"f":0.73},{"ion":"C1550","k":"mod","v":-116,"f":0.8},{"ion":"C1550","k":"mod","v":-110,"f":0.85},{"ion":"C1550","k":"mod","v":-103,"f":0.88},{"ion":"C1550","k":"mod","v":-96,"f":0.9},{"ion":"C1550","k":"mod","v":-90,"f":0.9},{"ion":"C1550","k":"mod","v":-83,"f":0.88},{"ion":"C1550","k":"mod","v":-76,"f":0.86},{"ion":"C1550","k":"mod","v":-70,"f":0.83},{"ion":"C1550","k":"mod","v":-64,"f":0.8},{"ion":"C1550","k":"mod","v":-58,"f":0.75},{"ion":"C1550","k":"mod","v":-53,"f":0.71},{"ion":"C1550","k":"mod","v":-48,"f":0.65},{"ion":"C1550","k":"mod","v":-43,"f":0.55},{"ion":"C1550","k":"mod","v":-39,"f":0.46},{"ion":"C1550","k":"mod","v":-35,"f":0.4},{"ion":"C1550","k":"mod","v":-32,"f":0.41},{"ion":"C1550","k":"mod","v":-28,"f":0.5},{"ion":"C1550","k":"mod","v":-24,"f":0.64},{"ion":"C1550","k":"mod","v":-20,"f":0.76},{"ion":"C1550","k":"mod","v":-16,"f":0.8},{"ion":"C1550","k":"mod","v":-12,"f":0.79},{"ion":"C1550","k":"mod","v":-7,"f":0.76},{"ion":"C1550","k":"mod","v":-2,"f":0.76},{"ion":"C1550","k":"mod","v":4,"f":0.78},{"ion":"C1550","k":"mod","v":10,"f":0.81},{"ion":"C1550","k":"mod","v":16,"f":0.81},{"ion":"C1550","k":"mod","v":22,"f":0.8},{"ion":"C1550","k":"mod","v":30,"f":0.79},{"ion":"C1550","k":"mod","v":38,"f":0.79},{"ion":"C1550","k":"mod","v":45,"f":0.77},{"ion":"C1550","k":"mod","v":50,"f":0.74},{"ion":"C1550","k":"mod","v":55,"f":0.71},{"ion":"C1550","k":"mod","v":59,"f":0.73},{"ion":"C1550","k":"mod","v":63,"f":0.8},{"ion":"C1550","k":"mod","v":67,"f":0.86},{"ion":"C1550","k":"mod","v":71,"f":0.88},{"ion":"C1550","k":"mod","v":76,"f":0.86},{"ion":"C1550","k":"mod","v":81,"f":0.86},{"ion":"C1550","k":"mod","v":86,"f":0.86},{"ion":"C1550","k":"mod","v":90,"f":0.89},{"ion":"C1550","k":"mod","v":94,"f":0.95},{"ion":"C1550","k":"mod","v":98,"f":0.99},{"ion":"C1550","k":"mod","v":102,"f":1.0},{"ion":"C1550","k":"mod","v":250,"f":1.0},

{"ion":"S1393","k":"obs","v":-250,"f":0.59},{"ion":"S1393","k":"obs","v":-248,"f":0.68},{"ion":"S1393","k":"obs","v":-245,"f":0.58},{"ion":"S1393","k":"obs","v":-242,"f":0.6},{"ion":"S1393","k":"obs","v":-240,"f":0.55},{"ion":"S1393","k":"obs","v":-237,"f":0.62},{"ion":"S1393","k":"obs","v":-235,"f":0.66},{"ion":"S1393","k":"obs","v":-232,"f":0.64},{"ion":"S1393","k":"obs","v":-229,"f":0.62},{"ion":"S1393","k":"obs","v":-227,"f":0.59},{"ion":"S1393","k":"obs","v":-224,"f":0.54},{"ion":"S1393","k":"obs","v":-222,"f":0.47},{"ion":"S1393","k":"obs","v":-219,"f":0.35},{"ion":"S1393","k":"obs","v":-217,"f":0.24},{"ion":"S1393","k":"obs","v":-214,"f":0.14},{"ion":"S1393","k":"obs","v":-212,"f":0.06},{"ion":"S1393","k":"obs","v":-209,"f":0.0},{"ion":"S1393","k":"obs","v":-205,"f":0.01},{"ion":"S1393","k":"obs","v":-202,"f":0.02},{"ion":"S1393","k":"obs","v":-199.5,"f":0.08},{"ion":"S1393","k":"obs","v":-197,"f":0.17},{"ion":"S1393","k":"obs","v":-194,"f":0.3},{"ion":"S1393","k":"obs","v":-192,"f":0.4},{"ion":"S1393","k":"obs","v":-190,"f":0.44},{"ion":"S1393","k":"obs","v":-188,"f":0.47},{"ion":"S1393","k":"obs","v":-185,"f":0.5},{"ion":"S1393","k":"obs","v":-183,"f":0.5},{"ion":"S1393","k":"obs","v":-180,"f":0.52},{"ion":"S1393","k":"obs","v":-178,"f":0.55},{"ion":"S1393","k":"obs","v":-176,"f":0.44},{"ion":"S1393","k":"obs","v":-173.5,"f":0.3},{"ion":"S1393","k":"obs","v":-171,"f":0.18},{"ion":"S1393","k":"obs","v":-168,"f":0.1},{"ion":"S1393","k":"obs","v":-166,"f":0.05},{"ion":"S1393","k":"obs","v":-163.5,"f":0.01},{"ion":"S1393","k":"obs","v":-161.5,"f":0.0},{"ion":"S1393","k":"obs","v":-159,"f":0.02},{"ion":"S1393","k":"obs","v":-157,"f":0.04},{"ion":"S1393","k":"obs","v":-154.5,"f":0.1},{"ion":"S1393","k":"obs","v":-152,"f":0.17},{"ion":"S1393","k":"obs","v":-150,"f":0.27},{"ion":"S1393","k":"obs","v":-147.6,"f":0.37},{"ion":"S1393","k":"obs","v":-145,"f":0.44},{"ion":"S1393","k":"obs","v":-142.7,"f":0.47},{"ion":"S1393","k":"obs","v":-140,"f":0.54},{"ion":"S1393","k":"obs","v":-138,"f":0.62},{"ion":"S1393","k":"obs","v":-136,"f":0.64},{"ion":"S1393","k":"obs","v":-134.6,"f":0.66},{"ion":"S1393","k":"obs","v":-133,"f":0.62},{"ion":"S1393","k":"obs","v":-131.4,"f":0.55},{"ion":"S1393","k":"obs","v":-130,"f":0.45},{"ion":"S1393","k":"obs","v":-128,"f":0.32},{"ion":"S1393","k":"obs","v":-126,"f":0.22},{"ion":"S1393","k":"obs","v":-124,"f":0.16},{"ion":"S1393","k":"obs","v":-123,"f":0.14},{"ion":"S1393","k":"obs","v":-121.5,"f":0.18},{"ion":"S1393","k":"obs","v":-120,"f":0.27},{"ion":"S1393","k":"obs","v":-117.5,"f":0.37},{"ion":"S1393","k":"obs","v":-115,"f":0.44},{"ion":"S1393","k":"obs","v":-112.7,"f":0.42},{"ion":"S1393","k":"obs","v":-110.5,"f":0.4},{"ion":"S1393","k":"obs","v":-108.5,"f":0.47},{"ion":"S1393","k":"obs","v":-107,"f":0.52},{"ion":"S1393","k":"obs","v":-104,"f":0.53},{"ion":"S1393","k":"obs","v":-101.5,"f":0.47},{"ion":"S1393","k":"obs","v":-99,"f":0.37},{"ion":"S1393","k":"obs","v":-96.5,"f":0.22},{"ion":"S1393","k":"obs","v":-94,"f":0.1},{"ion":"S1393","k":"obs","v":-91.5,"f":0.05},{"ion":"S1393","k":"obs","v":-89,"f":0.02},{"ion":"S1393","k":"obs","v":-87,"f":0.03},{"ion":"S1393","k":"obs","v":-84.5,"f":0.07},{"ion":"S1393","k":"obs","v":-82,"f":0.18},{"ion":"S1393","k":"obs","v":-79.6,"f":0.3},{"ion":"S1393","k":"obs","v":-77.5,"f":0.42},{"ion":"S1393","k":"obs","v":-76.4,"f":0.47},{"ion":"S1393","k":"obs","v":-73,"f":0.47},{"ion":"S1393","k":"obs","v":-70,"f":0.47},{"ion":"S1393","k":"obs","v":-67.5,"f":0.45},{"ion":"S1393","k":"obs","v":-65,"f":0.44},{"ion":"S1393","k":"obs","v":-62.5,"f":0.35},{"ion":"S1393","k":"obs","v":-60,"f":0.24},{"ion":"S1393","k":"obs","v":-57,"f":0.22},{"ion":"S1393","k":"obs","v":-54,"f":0.2},{"ion":"S1393","k":"obs","v":-51,"f":0.12},{"ion":"S1393","k":"obs","v":-47.6,"f":0.04},{"ion":"S1393","k":"obs","v":-44,"f":0.02},{"ion":"S1393","k":"obs","v":-41,"f":0.02},{"ion":"S1393","k":"obs","v":-37,"f":0.03},{"ion":"S1393","k":"obs","v":-34,"f":0.03},{"ion":"S1393","k":"obs","v":-31,"f":0.02},{"ion":"S1393","k":"obs","v":-28.5,"f":0.06},{"ion":"S1393","k":"obs","v":-26,"f":0.1},{"ion":"S1393","k":"obs","v":-23,"f":0.2},{"ion":"S1393","k":"obs","v":-19.7,"f":0.32},{"ion":"S1393","k":"obs","v":-16.5,"f":0.3},{"ion":"S1393","k":"obs","v":-13.3,"f":0.25},{"ion":"S1393","k":"obs","v":-11,"f":0.2},{"ion":"S1393","k":"obs","v":-8.4,"f":0.15},{"ion":"S1393","k":"obs","v":-6,"f":0.2},{"ion":"S1393","k":"obs","v":-3.6,"f":0.25},{"ion":"S1393","k":"obs","v":-1,"f":0.3},{"ion":"S1393","k":"obs","v":1.3,"f":0.34},{"ion":"S1393","k":"obs","v":4.5,"f":0.42},{"ion":"S1393","k":"obs","v":7.8,"f":0.49},{"ion":"S1393","k":"obs","v":10,"f":0.51},{"ion":"S1393","k":"obs","v":12.6,"f":0.52},{"ion":"S1393","k":"obs","v":15,"f":0.5},{"ion":"S1393","k":"obs","v":17.5,"f":0.47},{"ion":"S1393","k":"obs","v":21,"f":0.48},{"ion":"S1393","k":"obs","v":24,"f":0.47},{"ion":"S1393","k":"obs","v":27,"f":0.58},{"ion":"S1393","k":"obs","v":29.5,"f":0.52},{"ion":"S1393","k":"obs","v":32,"f":0.44},{"ion":"S1393","k":"obs","v":34.5,"f":0.46},{"ion":"S1393","k":"obs","v":37,"f":0.47},{"ion":"S1393","k":"obs","v":40,"f":0.43},{"ion":"S1393","k":"obs","v":43.4,"f":0.37},{"ion":"S1393","k":"obs","v":46.6,"f":0.33},{"ion":"S1393","k":"obs","v":49.8,"f":0.3},{"ion":"S1393","k":"obs","v":52,"f":0.31},{"ion":"S1393","k":"obs","v":54.7,"f":0.34},{"ion":"S1393","k":"obs","v":58,"f":0.38},{"ion":"S1393","k":"obs","v":61,"f":0.44},{"ion":"S1393","k":"obs","v":63.5,"f":0.56},{"ion":"S1393","k":"obs","v":66,"f":0.68},{"ion":"S1393","k":"obs","v":69,"f":0.67},{"ion":"S1393","k":"obs","v":72.5,"f":0.66},{"ion":"S1393","k":"obs","v":76,"f":0.65},{"ion":"S1393","k":"obs","v":79,"f":0.64},{"ion":"S1393","k":"obs","v":81.5,"f":0.68},{"ion":"S1393","k":"obs","v":83.8,"f":0.72},{"ion":"S1393","k":"obs","v":86,"f":0.68},{"ion":"S1393","k":"obs","v":88.6,"f":0.64},{"ion":"S1393","k":"obs","v":91,"f":0.65},{"ion":"S1393","k":"obs","v":93.5,"f":0.68},{"ion":"S1393","k":"obs","v":95,"f":0.76},{"ion":"S1393","k":"obs","v":96.8,"f":0.83},{"ion":"S1393","k":"obs","v":99,"f":0.86},{"ion":"S1393","k":"obs","v":101.6,"f":0.88},{"ion":"S1393","k":"obs","v":104,"f":0.84},{"ion":"S1393","k":"obs","v":106.5,"f":0.78},{"ion":"S1393","k":"obs","v":110,"f":0.79},{"ion":"S1393","k":"obs","v":113,"f":0.79},{"ion":"S1393","k":"obs","v":117,"f":0.81},{"ion":"S1393","k":"obs","v":121,"f":0.83},{"ion":"S1393","k":"obs","v":123.5,"f":0.8},{"ion":"S1393","k":"obs","v":125.9,"f":0.74},{"ion":"S1393","k":"obs","v":128.5,"f":0.68},{"ion":"S1393","k":"obs","v":130.7,"f":0.61},{"ion":"S1393","k":"obs","v":132.5,"f":0.5},{"ion":"S1393","k":"obs","v":134.6,"f":0.37},{"ion":"S1393","k":"obs","v":137,"f":0.23},{"ion":"S1393","k":"obs","v":139,"f":0.12},{"ion":"S1393","k":"obs","v":142,"f":0.03},{"ion":"S1393","k":"obs","v":144.5,"f":0.02},{"ion":"S1393","k":"obs","v":147,"f":0.03},{"ion":"S1393","k":"obs","v":150,"f":0.2},{"ion":"S1393","k":"obs","v":152.5,"f":0.32},{"ion":"S1393","k":"obs","v":155,"f":0.44},{"ion":"S1393","k":"obs","v":157.5,"f":0.54},{"ion":"S1393","k":"obs","v":160,"f":0.62},{"ion":"S1393","k":"obs","v":162.5,"f":0.68},{"ion":"S1393","k":"obs","v":164.6,"f":0.74},{"ion":"S1393","k":"obs","v":168,"f":0.77},{"ion":"S1393","k":"obs","v":171,"f":0.79},{"ion":"S1393","k":"obs","v":173.5,"f":0.75},{"ion":"S1393","k":"obs","v":176,"f":0.71},{"ion":"S1393","k":"obs","v":179,"f":0.74},{"ion":"S1393","k":"obs","v":182.5,"f":0.76},{"ion":"S1393","k":"obs","v":185,"f":0.82},{"ion":"S1393","k":"obs","v":187.4,"f":0.88},{"ion":"S1393","k":"obs","v":190,"f":0.84},{"ion":"S1393","k":"obs","v":192.2,"f":0.79},{"ion":"S1393","k":"obs","v":195,"f":0.79},{"ion":"S1393","k":"obs","v":198.7,"f":0.78},{"ion":"S1393","k":"obs","v":202,"f":0.81},{"ion":"S1393","k":"obs","v":205,"f":0.83},{"ion":"S1393","k":"obs","v":207.5,"f":0.81},{"ion":"S1393","k":"obs","v":210,"f":0.78},{"ion":"S1393","k":"obs","v":212.5,"f":0.74},{"ion":"S1393","k":"obs","v":215,"f":0.69},{"ion":"S1393","k":"obs","v":217.5,"f":0.64},{"ion":"S1393","k":"obs","v":219.8,"f":0.58},{"ion":"S1393","k":"obs","v":222,"f":0.47},{"ion":"S1393","k":"obs","v":224.7,"f":0.34},{"ion":"S1393","k":"obs","v":227,"f":0.22},{"ion":"S1393","k":"obs","v":229.6,"f":0.1},{"ion":"S1393","k":"obs","v":232.5,"f":0.04},{"ion":"S1393","k":"obs","v":236,"f":0.01},{"ion":"S1393","k":"obs","v":238.5,"f":0.06},{"ion":"S1393","k":"obs","v":241,"f":0.14},{"ion":"S1393","k":"obs","v":243.5,"f":0.25},{"ion":"S1393","k":"obs","v":246,"f":0.37},{"ion":"S1393","k":"obs","v":248,"f":0.46},{"ion":"S1393","k":"obs","v":250,"f":0.54},

{"ion":"S1393","k":"mod","v":-250,"f":1.0},{"ion":"S1393","k":"mod","v":-212,"f":1.0},{"ion":"S1393","k":"mod","v":-205,"f":0.98},{"ion":"S1393","k":"mod","v":-199,"f":0.93},{"ion":"S1393","k":"mod","v":-191,"f":0.85},{"ion":"S1393","k":"mod","v":-183,"f":0.8},{"ion":"S1393","k":"mod","v":-175,"f":0.74},{"ion":"S1393","k":"mod","v":-166,"f":0.68},{"ion":"S1393","k":"mod","v":-159,"f":0.67},{"ion":"S1393","k":"mod","v":-151,"f":0.6},{"ion":"S1393","k":"mod","v":-144,"f":0.56},{"ion":"S1393","k":"mod","v":-139.5,"f":0.6},{"ion":"S1393","k":"mod","v":-135,"f":0.68},{"ion":"S1393","k":"mod","v":-131,"f":0.62},{"ion":"S1393","k":"mod","v":-128,"f":0.45},{"ion":"S1393","k":"mod","v":-125,"f":0.3},{"ion":"S1393","k":"mod","v":-122.6,"f":0.24},{"ion":"S1393","k":"mod","v":-120,"f":0.3},{"ion":"S1393","k":"mod","v":-118.4,"f":0.4},{"ion":"S1393","k":"mod","v":-115,"f":0.5},{"ion":"S1393","k":"mod","v":-112,"f":0.58},{"ion":"S1393","k":"mod","v":-107,"f":0.66},{"ion":"S1393","k":"mod","v":-102,"f":0.71},{"ion":"S1393","k":"mod","v":-96,"f":0.76},{"ion":"S1393","k":"mod","v":-89,"f":0.8},{"ion":"S1393","k":"mod","v":-83,"f":0.77},{"ion":"S1393","k":"mod","v":-78,"f":0.72},{"ion":"S1393","k":"mod","v":-73,"f":0.68},{"ion":"S1393","k":"mod","v":-68,"f":0.67},{"ion":"S1393","k":"mod","v":-63.4,"f":0.66},{"ion":"S1393","k":"mod","v":-60,"f":0.62},{"ion":"S1393","k":"mod","v":-57,"f":0.57},{"ion":"S1393","k":"mod","v":-54,"f":0.47},{"ion":"S1393","k":"mod","v":-50.5,"f":0.34},{"ion":"S1393","k":"mod","v":-47,"f":0.2},{"ion":"S1393","k":"mod","v":-44,"f":0.1},{"ion":"S1393","k":"mod","v":-40,"f":0.05},{"ion":"S1393","k":"mod","v":-37,"f":0.04},{"ion":"S1393","k":"mod","v":-33,"f":0.05},{"ion":"S1393","k":"mod","v":-30,"f":0.09},{"ion":"S1393","k":"mod","v":-27,"f":0.16},{"ion":"S1393","k":"mod","v":-24,"f":0.24},{"ion":"S1393","k":"mod","v":-20,"f":0.32},{"ion":"S1393","k":"mod","v":-18,"f":0.35},{"ion":"S1393","k":"mod","v":-15,"f":0.32},{"ion":"S1393","k":"mod","v":-11.7,"f":0.27},{"ion":"S1393","k":"mod","v":-8,"f":0.22},{"ion":"S1393","k":"mod","v":-5.2,"f":0.19},{"ion":"S1393","k":"mod","v":-2,"f":0.22},{"ion":"S1393","k":"mod","v":1.3,"f":0.29},{"ion":"S1393","k":"mod","v":4.5,"f":0.38},{"ion":"S1393","k":"mod","v":7.8,"f":0.47},{"ion":"S1393","k":"mod","v":11,"f":0.51},{"ion":"S1393","k":"mod","v":14.2,"f":0.53},{"ion":"S1393","k":"mod","v":19,"f":0.51},{"ion":"S1393","k":"mod","v":24,"f":0.49},{"ion":"S1393","k":"mod","v":29,"f":0.48},{"ion":"S1393","k":"mod","v":33.7,"f":0.47},{"ion":"S1393","k":"mod","v":38,"f":0.47},{"ion":"S1393","k":"mod","v":41.7,"f":0.46},{"ion":"S1393","k":"mod","v":45,"f":0.42},{"ion":"S1393","k":"mod","v":48.2,"f":0.37},{"ion":"S1393","k":"mod","v":51,"f":0.34},{"ion":"S1393","k":"mod","v":53.7,"f":0.34},{"ion":"S1393","k":"mod","v":56.5,"f":0.38},{"ion":"S1393","k":"mod","v":59.5,"f":0.44},{"ion":"S1393","k":"mod","v":62.5,"f":0.53},{"ion":"S1393","k":"mod","v":66,"f":0.64},{"ion":"S1393","k":"mod","v":70,"f":0.71},{"ion":"S1393","k":"mod","v":73,"f":0.67},{"ion":"S1393","k":"mod","v":75.7,"f":0.61},{"ion":"S1393","k":"mod","v":79,"f":0.63},{"ion":"S1393","k":"mod","v":83.8,"f":0.69},{"ion":"S1393","k":"mod","v":87,"f":0.63},{"ion":"S1393","k":"mod","v":89.5,"f":0.57},{"ion":"S1393","k":"mod","v":91.5,"f":0.6},{"ion":"S1393","k":"mod","v":93.5,"f":0.68},{"ion":"S1393","k":"mod","v":96,"f":0.87},{"ion":"S1393","k":"mod","v":99,"f":0.98},{"ion":"S1393","k":"mod","v":103,"f":1.0},{"ion":"S1393","k":"mod","v":250,"f":1.0},

{"ion":"S1402","k":"obs","v":-250,"f":0.74},{"ion":"S1402","k":"obs","v":-248.5,"f":0.62},{"ion":"S1402","k":"obs","v":-246.5,"f":0.4},{"ion":"S1402","k":"obs","v":-245,"f":0.21},{"ion":"S1402","k":"obs","v":-243,"f":0.1},{"ion":"S1402","k":"obs","v":-241.7,"f":0.04},{"ion":"S1402","k":"obs","v":-239,"f":0.08},{"ion":"S1402","k":"obs","v":-237.5,"f":0.25},{"ion":"S1402","k":"obs","v":-236.6,"f":0.41},{"ion":"S1402","k":"obs","v":-235,"f":0.52},{"ion":"S1402","k":"obs","v":-233.4,"f":0.62},{"ion":"S1402","k":"obs","v":-231.5,"f":0.7},{"ion":"S1402","k":"obs","v":-230,"f":0.76},{"ion":"S1402","k":"obs","v":-227,"f":0.81},{"ion":"S1402","k":"obs","v":-224,"f":0.83},{"ion":"S1402","k":"obs","v":-220.6,"f":0.86},{"ion":"S1402","k":"obs","v":-219,"f":0.84},{"ion":"S1402","k":"obs","v":-217,"f":0.92},{"ion":"S1402","k":"obs","v":-215.5,"f":0.89},{"ion":"S1402","k":"obs","v":-214,"f":0.87},{"ion":"S1402","k":"obs","v":-212,"f":0.9},{"ion":"S1402","k":"obs","v":-209,"f":0.92},{"ion":"S1402","k":"obs","v":-206.5,"f":0.9},{"ion":"S1402","k":"obs","v":-204,"f":0.99},{"ion":"S1402","k":"obs","v":-202,"f":0.95},{"ion":"S1402","k":"obs","v":-200,"f":0.87},{"ion":"S1402","k":"obs","v":-198,"f":0.9},{"ion":"S1402","k":"obs","v":-196,"f":0.92},{"ion":"S1402","k":"obs","v":-194,"f":0.9},{"ion":"S1402","k":"obs","v":-191.6,"f":0.87},{"ion":"S1402","k":"obs","v":-189,"f":0.89},{"ion":"S1402","k":"obs","v":-187,"f":0.9},{"ion":"S1402","k":"obs","v":-185,"f":0.92},{"ion":"S1402","k":"obs","v":-183,"f":0.98},{"ion":"S1402","k":"obs","v":-182,"f":1.04},{"ion":"S1402","k":"obs","v":-180.5,"f":1.0},{"ion":"S1402","k":"obs","v":-179,"f":0.92},{"ion":"S1402","k":"obs","v":-177,"f":0.88},{"ion":"S1402","k":"obs","v":-175.6,"f":0.86},{"ion":"S1402","k":"obs","v":-174,"f":0.8},{"ion":"S1402","k":"obs","v":-172.4,"f":0.76},{"ion":"S1402","k":"obs","v":-170,"f":0.76},{"ion":"S1402","k":"obs","v":-167.5,"f":0.77},{"ion":"S1402","k":"obs","v":-165.5,"f":0.82},{"ion":"S1402","k":"obs","v":-164.3,"f":0.87},{"ion":"S1402","k":"obs","v":-162,"f":0.84},{"ion":"S1402","k":"obs","v":-159.4,"f":0.81},{"ion":"S1402","k":"obs","v":-157,"f":0.8},{"ion":"S1402","k":"obs","v":-154.5,"f":0.79},{"ion":"S1402","k":"obs","v":-152.5,"f":0.72},{"ion":"S1402","k":"obs","v":-151,"f":0.67},{"ion":"S1402","k":"obs","v":-149.5,"f":0.72},{"ion":"S1402","k":"obs","v":-148,"f":0.77},{"ion":"S1402","k":"obs","v":-145,"f":0.78},{"ion":"S1402","k":"obs","v":-141.6,"f":0.77},{"ion":"S1402","k":"obs","v":-139,"f":0.8},{"ion":"S1402","k":"obs","v":-136.7,"f":0.84},{"ion":"S1402","k":"obs","v":-135,"f":0.9},{"ion":"S1402","k":"obs","v":-133.4,"f":0.98},{"ion":"S1402","k":"obs","v":-132,"f":0.94},{"ion":"S1402","k":"obs","v":-130,"f":0.86},{"ion":"S1402","k":"obs","v":-128.5,"f":0.74},{"ion":"S1402","k":"obs","v":-127,"f":0.62},{"ion":"S1402","k":"obs","v":-125.5,"f":0.52},{"ion":"S1402","k":"obs","v":-123.8,"f":0.45},{"ion":"S1402","k":"obs","v":-122,"f":0.46},{"ion":"S1402","k":"obs","v":-120.5,"f":0.5},{"ion":"S1402","k":"obs","v":-119,"f":0.55},{"ion":"S1402","k":"obs","v":-117,"f":0.62},{"ion":"S1402","k":"obs","v":-114.5,"f":0.7},{"ion":"S1402","k":"obs","v":-112,"f":0.77},{"ion":"S1402","k":"obs","v":-110.5,"f":0.76},{"ion":"S1402","k":"obs","v":-109,"f":0.74},{"ion":"S1402","k":"obs","v":-107,"f":0.8},{"ion":"S1402","k":"obs","v":-104,"f":0.89},{"ion":"S1402","k":"obs","v":-101.5,"f":0.88},{"ion":"S1402","k":"obs","v":-99,"f":0.87},{"ion":"S1402","k":"obs","v":-96,"f":0.9},{"ion":"S1402","k":"obs","v":-94,"f":0.93},{"ion":"S1402","k":"obs","v":-92.6,"f":0.96},{"ion":"S1402","k":"obs","v":-90,"f":0.9},{"ion":"S1402","k":"obs","v":-87.7,"f":0.87},{"ion":"S1402","k":"obs","v":-85,"f":0.87},{"ion":"S1402","k":"obs","v":-82.8,"f":0.86},{"ion":"S1402","k":"obs","v":-80,"f":0.84},{"ion":"S1402","k":"obs","v":-78,"f":0.81},{"ion":"S1402","k":"obs","v":-76.5,"f":0.77},{"ion":"S1402","k":"obs","v":-74.8,"f":0.72},{"ion":"S1402","k":"obs","v":-73,"f":0.58},{"ion":"S1402","k":"obs","v":-71.5,"f":0.41},{"ion":"S1402","k":"obs","v":-69.5,"f":0.25},{"ion":"S1402","k":"obs","v":-68,"f":0.16},{"ion":"S1402","k":"obs","v":-66.7,"f":0.04},{"ion":"S1402","k":"obs","v":-65.5,"f":0.1},{"ion":"S1402","k":"obs","v":-64.4,"f":0.18},{"ion":"S1402","k":"obs","v":-62.5,"f":0.26},{"ion":"S1402","k":"obs","v":-60.2,"f":0.35},{"ion":"S1402","k":"obs","v":-58,"f":0.42},{"ion":"S1402","k":"obs","v":-55.3,"f":0.52},{"ion":"S1402","k":"obs","v":-52,"f":0.58},{"ion":"S1402","k":"obs","v":-50.5,"f":0.63},{"ion":"S1402","k":"obs","v":-48.8,"f":0.67},{"ion":"S1402","k":"obs","v":-47,"f":0.64},{"ion":"S1402","k":"obs","v":-45.6,"f":0.59},{"ion":"S1402","k":"obs","v":-44,"f":0.47},{"ion":"S1402","k":"obs","v":-42.4,"f":0.35},{"ion":"S1402","k":"obs","v":-40,"f":0.29},{"ion":"S1402","k":"obs","v":-37.5,"f":0.24},{"ion":"S1402","k":"obs","v":-34,"f":0.2},{"ion":"S1402","k":"obs","v":-31,"f":0.17},{"ion":"S1402","k":"obs","v":-28,"f":0.12},{"ion":"S1402","k":"obs","v":-26,"f":0.08},{"ion":"S1402","k":"obs","v":-24.6,"f":0.04},{"ion":"S1402","k":"obs","v":-23,"f":0.05},{"ion":"S1402","k":"obs","v":-21.4,"f":0.18},{"ion":"S1402","k":"obs","v":-19,"f":0.35},{"ion":"S1402","k":"obs","v":-16.5,"f":0.52},{"ion":"S1402","k":"obs","v":-14,"f":0.5},{"ion":"S1402","k":"obs","v":-11.7,"f":0.45},{"ion":"S1402","k":"obs","v":-10,"f":0.4},{"ion":"S1402","k":"obs","v":-8.4,"f":0.37},{"ion":"S1402","k":"obs","v":-6,"f":0.44},{"ion":"S1402","k":"obs","v":-3.6,"f":0.48},{"ion":"S1402","k":"obs","v":-0.3,"f":0.52},{"ion":"S1402","k":"obs","v":3,"f":0.57},{"ion":"S1402","k":"obs","v":5.5,"f":0.5},{"ion":"S1402","k":"obs","v":7.8,"f":0.45},{"ion":"S1402","k":"obs","v":11,"f":0.47},{"ion":"S1402","k":"obs","v":14.2,"f":0.48},{"ion":"S1402","k":"obs","v":17,"f":0.46},{"ion":"S1402","k":"obs","v":19,"f":0.44},{"ion":"S1402","k":"obs","v":21.5,"f":0.5},{"ion":"S1402","k":"obs","v":24,"f":0.55},{"ion":"S1402","k":"obs","v":27,"f":0.6},{"ion":"S1402","k":"obs","v":30.4,"f":0.63},{"ion":"S1402","k":"obs","v":33,"f":0.65},{"ion":"S1402","k":"obs","v":35.3,"f":0.67},{"ion":"S1402","k":"obs","v":38,"f":0.64},{"ion":"S1402","k":"obs","v":40,"f":0.62},{"ion":"S1402","k":"obs","v":43,"f":0.63},{"ion":"S1402","k":"obs","v":46.6,"f":0.6},{"ion":"S1402","k":"obs","v":49,"f":0.54},{"ion":"S1402","k":"obs","v":51.5,"f":0.48},{"ion":"S1402","k":"obs","v":55,"f":0.43},{"ion":"S1402","k":"obs","v":58,"f":0.39},{"ion":"S1402","k":"obs","v":60.5,"f":0.32},{"ion":"S1402","k":"obs","v":62.8,"f":0.25},{"ion":"S1402","k":"obs","v":65,"f":0.22},{"ion":"S1402","k":"obs","v":67.6,"f":0.17},{"ion":"S1402","k":"obs","v":70.5,"f":0.21},{"ion":"S1402","k":"obs","v":72.5,"f":0.27},{"ion":"S1402","k":"obs","v":74,"f":0.3},{"ion":"S1402","k":"obs","v":76.5,"f":0.26},{"ion":"S1402","k":"obs","v":79,"f":0.18},{"ion":"S1402","k":"obs","v":82,"f":0.12},{"ion":"S1402","k":"obs","v":85.4,"f":0.05},{"ion":"S1402","k":"obs","v":88.5,"f":0.07},{"ion":"S1402","k":"obs","v":91.9,"f":0.08},{"ion":"S1402","k":"obs","v":95,"f":0.11},{"ion":"S1402","k":"obs","v":98.3,"f":0.13},{"ion":"S1402","k":"obs","v":101.5,"f":0.11},{"ion":"S1402","k":"obs","v":104.8,"f":0.12},{"ion":"S1402","k":"obs","v":107,"f":0.17},{"ion":"S1402","k":"obs","v":109.7,"f":0.22},{"ion":"S1402","k":"obs","v":112,"f":0.25},{"ion":"S1402","k":"obs","v":114.6,"f":0.27},{"ion":"S1402","k":"obs","v":117,"f":0.26},{"ion":"S1402","k":"obs","v":119.4,"f":0.24},{"ion":"S1402","k":"obs","v":122,"f":0.26},{"ion":"S1402","k":"obs","v":124.3,"f":0.27},{"ion":"S1402","k":"obs","v":127,"f":0.31},{"ion":"S1402","k":"obs","v":129,"f":0.35},{"ion":"S1402","k":"obs","v":131,"f":0.45},{"ion":"S1402","k":"obs","v":132.4,"f":0.53},{"ion":"S1402","k":"obs","v":134.5,"f":0.5},{"ion":"S1402","k":"obs","v":137.2,"f":0.45},{"ion":"S1402","k":"obs","v":140,"f":0.5},{"ion":"S1402","k":"obs","v":142,"f":0.55},{"ion":"S1402","k":"obs","v":144.5,"f":0.63},{"ion":"S1402","k":"obs","v":147,"f":0.72},{"ion":"S1402","k":"obs","v":149,"f":0.68},{"ion":"S1402","k":"obs","v":151,"f":0.55},{"ion":"S1402","k":"obs","v":153,"f":0.46},{"ion":"S1402","k":"obs","v":155,"f":0.39},{"ion":"S1402","k":"obs","v":156.5,"f":0.3},{"ion":"S1402","k":"obs","v":157.7,"f":0.22},{"ion":"S1402","k":"obs","v":159.5,"f":0.35},{"ion":"S1402","k":"obs","v":161.5,"f":0.58},{"ion":"S1402","k":"obs","v":163,"f":0.7},{"ion":"S1402","k":"obs","v":164.6,"f":0.81},{"ion":"S1402","k":"obs","v":167,"f":0.86},{"ion":"S1402","k":"obs","v":169,"f":0.9},{"ion":"S1402","k":"obs","v":171,"f":0.92},{"ion":"S1402","k":"obs","v":172.5,"f":0.89},{"ion":"S1402","k":"obs","v":174.4,"f":0.86},{"ion":"S1402","k":"obs","v":176.5,"f":0.9},{"ion":"S1402","k":"obs","v":179.2,"f":0.96},{"ion":"S1402","k":"obs","v":182,"f":0.94},{"ion":"S1402","k":"obs","v":185.7,"f":0.98},{"ion":"S1402","k":"obs","v":188,"f":0.95},{"ion":"S1402","k":"obs","v":190,"f":0.9},{"ion":"S1402","k":"obs","v":192,"f":0.84},{"ion":"S1402","k":"obs","v":194,"f":0.65},{"ion":"S1402","k":"obs","v":195.5,"f":0.48},{"ion":"S1402","k":"obs","v":197,"f":0.3},{"ion":"S1402","k":"obs","v":198.7,"f":0.18},{"ion":"S1402","k":"obs","v":200.5,"f":0.3},{"ion":"S1402","k":"obs","v":202,"f":0.45},{"ion":"S1402","k":"obs","v":204.5,"f":0.6},{"ion":"S1402","k":"obs","v":206.8,"f":0.72},{"ion":"S1402","k":"obs","v":209,"f":0.76},{"ion":"S1402","k":"obs","v":211.7,"f":0.79},{"ion":"S1402","k":"obs","v":214,"f":0.84},{"ion":"S1402","k":"obs","v":216.5,"f":0.89},{"ion":"S1402","k":"obs","v":219,"f":0.87},{"ion":"S1402","k":"obs","v":221.4,"f":0.86},{"ion":"S1402","k":"obs","v":224,"f":0.88},{"ion":"S1402","k":"obs","v":227.8,"f":0.92},{"ion":"S1402","k":"obs","v":230,"f":0.9},{"ion":"S1402","k":"obs","v":232.7,"f":0.98},{"ion":"S1402","k":"obs","v":235,"f":0.95},{"ion":"S1402","k":"obs","v":237.6,"f":0.91},{"ion":"S1402","k":"obs","v":240,"f":0.95},{"ion":"S1402","k":"obs","v":242.5,"f":0.96},{"ion":"S1402","k":"obs","v":245,"f":0.93},{"ion":"S1402","k":"obs","v":247.3,"f":1.01},{"ion":"S1402","k":"obs","v":249,"f":0.91},{"ion":"S1402","k":"obs","v":250,"f":0.95},

{"ion":"S1402","k":"mod","v":-250,"f":1.0},{"ion":"S1402","k":"mod","v":-215,"f":1.0},{"ion":"S1402","k":"mod","v":-205,"f":0.99},{"ion":"S1402","k":"mod","v":-192,"f":0.94},{"ion":"S1402","k":"mod","v":-183,"f":0.9},{"ion":"S1402","k":"mod","v":-174,"f":0.86},{"ion":"S1402","k":"mod","v":-164,"f":0.83},{"ion":"S1402","k":"mod","v":-155,"f":0.8},{"ion":"S1402","k":"mod","v":-146,"f":0.74},{"ion":"S1402","k":"mod","v":-140,"f":0.77},{"ion":"S1402","k":"mod","v":-135,"f":0.83},{"ion":"S1402","k":"mod","v":-132,"f":0.78},{"ion":"S1402","k":"mod","v":-129,"f":0.64},{"ion":"S1402","k":"mod","v":-126,"f":0.52},{"ion":"S1402","k":"mod","v":-123,"f":0.48},{"ion":"S1402","k":"mod","v":-120,"f":0.56},{"ion":"S1402","k":"mod","v":-116,"f":0.68},{"ion":"S1402","k":"mod","v":-112,"f":0.77},{"ion":"S1402","k":"mod","v":-106,"f":0.81},{"ion":"S1402","k":"mod","v":-100,"f":0.84},{"ion":"S1402","k":"mod","v":-93,"f":0.89},{"ion":"S1402","k":"mod","v":-88,"f":0.88},{"ion":"S1402","k":"mod","v":-83,"f":0.86},{"ion":"S1402","k":"mod","v":-78,"f":0.84},{"ion":"S1402","k":"mod","v":-73,"f":0.83},{"ion":"S1402","k":"mod","v":-68,"f":0.82},{"ion":"S1402","k":"mod","v":-63.4,"f":0.81},{"ion":"S1402","k":"mod","v":-60,"f":0.78},{"ion":"S1402","k":"mod","v":-57,"f":0.74},{"ion":"S1402","k":"mod","v":-53,"f":0.68},{"ion":"S1402","k":"mod","v":-50.5,"f":0.62},{"ion":"S1402","k":"mod","v":-48,"f":0.55},{"ion":"S1402","k":"mod","v":-45.6,"f":0.48},{"ion":"S1402","k":"mod","v":-43,"f":0.37},{"ion":"S1402","k":"mod","v":-40.8,"f":0.28},{"ion":"S1402","k":"mod","v":-38,"f":0.22},{"ion":"S1402","k":"mod","v":-36,"f":0.2},{"ion":"S1402","k":"mod","v":-33,"f":0.22},{"ion":"S1402","k":"mod","v":-29.5,"f":0.29},{"ion":"S1402","k":"mod","v":-26,"f":0.38},{"ion":"S1402","k":"mod","v":-23,"f":0.48},{"ion":"S1402","k":"mod","v":-20,"f":0.56},{"ion":"S1402","k":"mod","v":-18,"f":0.58},{"ion":"S1402","k":"mod","v":-15,"f":0.57},{"ion":"S1402","k":"mod","v":-11.7,"f":0.53},{"ion":"S1402","k":"mod","v":-8,"f":0.47},{"ion":"S1402","k":"mod","v":-5.2,"f":0.44},{"ion":"S1402","k":"mod","v":-2,"f":0.46},{"ion":"S1402","k":"mod","v":1.3,"f":0.5},{"ion":"S1402","k":"mod","v":4.5,"f":0.58},{"ion":"S1402","k":"mod","v":7.8,"f":0.66},{"ion":"S1402","k":"mod","v":11,"f":0.7},{"ion":"S1402","k":"mod","v":14.2,"f":0.72},{"ion":"S1402","k":"mod","v":19,"f":0.71},{"ion":"S1402","k":"mod","v":24,"f":0.7},{"ion":"S1402","k":"mod","v":29,"f":0.69},{"ion":"S1402","k":"mod","v":33.7,"f":0.69},{"ion":"S1402","k":"mod","v":40,"f":0.68},{"ion":"S1402","k":"mod","v":45,"f":0.67},{"ion":"S1402","k":"mod","v":50,"f":0.63},{"ion":"S1402","k":"mod","v":54.7,"f":0.58},{"ion":"S1402","k":"mod","v":58,"f":0.59},{"ion":"S1402","k":"mod","v":61,"f":0.66},{"ion":"S1402","k":"mod","v":64,"f":0.77},{"ion":"S1402","k":"mod","v":67,"f":0.84},{"ion":"S1402","k":"mod","v":70,"f":0.86},{"ion":"S1402","k":"mod","v":72.5,"f":0.86},{"ion":"S1402","k":"mod","v":76,"f":0.82},{"ion":"S1402","k":"mod","v":79,"f":0.8},{"ion":"S1402","k":"mod","v":81.5,"f":0.83},{"ion":"S1402","k":"mod","v":83.8,"f":0.84},{"ion":"S1402","k":"mod","v":87,"f":0.81},{"ion":"S1402","k":"mod","v":90.2,"f":0.78},{"ion":"S1402","k":"mod","v":92.5,"f":0.84},{"ion":"S1402","k":"mod","v":95,"f":0.93},{"ion":"S1402","k":"mod","v":98,"f":0.99},{"ion":"S1402","k":"mod","v":101,"f":1.0},{"ion":"S1402","k":"mod","v":250,"f":1.0}
]},
"facet": {"row": {"field": "ion", "type": "nominal", "sort": ["OI","C1548","C1550","S1393","S1402"], "header": {"labels": false, "title": "Normalized flux", "titleFont": "DejaVu Sans Mono", "titleFontSize": 20, "titleFontWeight": "normal", "titleColor": "black", "titlePadding": 6}}},
"spacing": {"row": 0},
"spec": {
  "width": 515,
  "height": 157.5,
  "resolve": {"axis": {"x": "independent", "y": "independent"}},
  "layer": [
    {"transform": [{"filter": "datum.k === 'label'"}],
     "mark": {"type": "rule", "color": "#3535ff", "strokeWidth": 1.3},
     "encoding": {"y": {"datum": 1, "type": "quantitative", "scale": {"domain": [-0.2, 1.4], "nice": false, "zero": false}, "axis": null}}},
    {"transform": [{"filter": "datum.k === 'label'"}],
     "mark": {"type": "rule", "color": "#2020f0", "strokeWidth": 1.2, "strokeDash": [8, 4]},
     "encoding": {"y": {"datum": 0, "type": "quantitative", "scale": {"domain": [-0.2, 1.4], "nice": false, "zero": false}, "axis": null}}},
    {"transform": [{"filter": "datum.k === 'obs'"}],
     "mark": {"type": "line", "interpolate": "step", "color": "black", "strokeWidth": 1},
     "encoding": {
       "x": {"field": "v", "type": "quantitative", "scale": {"domain": [-250, 250], "nice": false, "zero": false},
             "axis": {"orient": "bottom", "values": [-200, -100, 0, 100, 200], "tickSize": -13, "labelFontSize": 19, "labelPadding": 15, "title": "Velocity (km/s)", "titleFontSize": 20, "titlePadding": 6}},
       "y": {"field": "f", "type": "quantitative", "scale": {"domain": [-0.2, 1.4], "nice": false, "zero": false},
             "axis": {"orient": "left", "values": [-0.2, 0, 0.2, 0.4, 0.6, 0.8, 1, 1.2, 1.4], "tickSize": -11, "labels": false, "title": null}}}},
    {"transform": [{"filter": "datum.k === 'mod'"}],
     "mark": {"type": "line", "interpolate": "monotone", "color": "#ff0000", "strokeWidth": 1.2},
     "encoding": {
       "x": {"field": "v", "type": "quantitative", "scale": {"domain": [-250, 250], "nice": false, "zero": false},
             "axis": {"orient": "bottom", "values": [-240,-220,-180,-160,-140,-120,-80,-60,-40,-20,20,40,60,80,120,140,160,180,220,240], "tickSize": -7, "labels": false, "domain": false, "title": null}},
       "y": {"field": "f", "type": "quantitative", "scale": {"domain": [-0.2, 1.4], "nice": false, "zero": false},
             "axis": {"orient": "right", "values": [-0.2, 0, 0.2, 0.4, 0.6, 0.8, 1, 1.2, 1.4], "tickSize": -8, "labels": false, "title": null}}}},
    {"transform": [{"filter": "datum.k === 'tick'"}],
     "mark": {"type": "rule", "color": "#ff0000", "strokeWidth": 1},
     "encoding": {
       "x": {"field": "v", "type": "quantitative", "scale": {"domain": [-250, 250], "nice": false, "zero": false},
             "axis": {"orient": "top", "values": [-200, -100, 0, 100, 200], "tickSize": -13, "labels": false, "title": null}},
       "y": {"datum": 1.07, "type": "quantitative", "scale": {"domain": [-0.2, 1.4], "nice": false, "zero": false}, "axis": null},
       "y2": {"datum": 1.33}}},
    {"transform": [{"filter": "datum.k === 'label'"}],
     "mark": {"type": "text", "align": "center", "baseline": "middle", "font": "DejaVu Sans Mono", "fontSize": 18, "color": "black"},
     "encoding": {
       "x": {"datum": -180, "type": "quantitative", "scale": {"domain": [-250, 250], "nice": false, "zero": false},
             "axis": {"orient": "top", "values": [-240,-220,-180,-160,-140,-120,-80,-60,-40,-20,20,40,60,80,120,140,160,180,220,240], "tickSize": -8, "labels": false, "domain": false, "title": null}},
       "y": {"datum": 0.3, "type": "quantitative", "scale": {"domain": [-0.2, 1.4], "nice": false, "zero": false}, "axis": null},
       "text": {"field": "name", "type": "nominal"}}},
    {"transform": [{"filter": "datum.k === 'tell'"}],
     "mark": {"type": "text", "align": "left", "baseline": "middle", "font": "DejaVu Sans Mono", "fontSize": 15, "color": "black"},
     "encoding": {
       "x": {"datum": 100, "type": "quantitative", "scale": {"domain": [-250, 250], "nice": false, "zero": false}, "axis": null},
       "y": {"datum": 0.4, "type": "quantitative", "scale": {"domain": [-0.2, 1.4], "nice": false, "zero": false}, "axis": null},
       "text": {"field": "name", "type": "nominal"}}}
  ]
}
}
